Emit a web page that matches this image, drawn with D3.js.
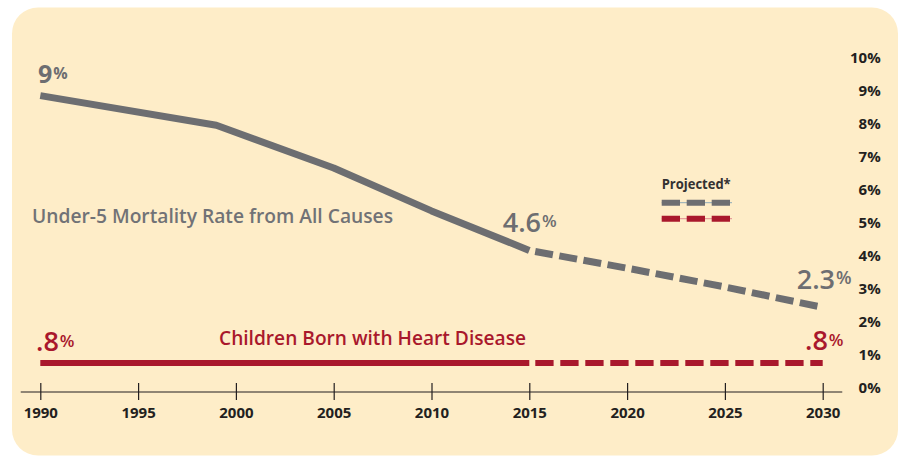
<!DOCTYPE html>
<html>
<head>
<meta charset="utf-8">
<script src="https://cdnjs.cloudflare.com/ajax/libs/d3/7.8.5/d3.min.js"></script>
<style>
body { margin: 0; background: #fff; }
svg text { font-family: "Open Sans", "Noto Sans", sans-serif; }
</style>
</head>
<body>
<script>
// Under-5 mortality rate from all causes (%), actual and projected
var mortYears = [1990, 1999, 2005, 2010, 2015];
var mortValues = [9.0, 8.1, 6.8, 5.5, 4.3];
var projYears = [2015, 2020, 2025, 2030];
var projValues = [4.3, 3.76, 3.19, 2.57];

// Children born with heart disease (%)
var heartYears = [1990, 2015];
var heartValues = [0.88, 0.88];
var heartProjYears = [2015, 2030];
var heartProjValues = [0.88, 0.88];

var xTicks = [1990, 1995, 2000, 2005, 2010, 2015, 2020, 2025, 2030];
var yTicks = [0, 1, 2, 3, 4, 5, 6, 7, 8, 9, 10];

var grey = "#6d6e71", red = "#a9182c", ink = "#231f20";

var svg = d3.select("body").append("svg")
    .attr("width", 899)
    .attr("height", 457);

// cream card
svg.append("rect")
    .attr("x", 12).attr("y", 7.5)
    .attr("width", 886).attr("height", 448)
    .attr("rx", 26).attr("ry", 26)
    .attr("fill", "#feedc8");

var x = d3.scaleLinear().domain([1990, 2030]).range([40.3, 822.7]);
var y = d3.scaleLinear().domain([0, 10]).range([392, 62.7]);

// x axis
var xAxis = svg.append("g")
    .attr("transform", "translate(0,392)")
    .call(d3.axisBottom(x).tickValues(xTicks).tickFormat(d3.format("d")).tickSize(8));
xAxis.select(".domain").remove();
xAxis.append("line")
    .attr("x1", x(1989)).attr("x2", x(2031))
    .attr("stroke", ink).attr("stroke-width", 1.2);
xAxis.selectAll(".tick line")
    .attr("y1", -9).attr("y2", 8)
    .attr("stroke", ink).attr("stroke-width", 1.2);
xAxis.selectAll(".tick text")
    .attr("y", 26).attr("dy", 0)
    .attr("fill", ink)
    .style("font-size", "15px").style("font-weight", 700);

// y axis labels on the right
var yAxis = svg.append("g")
    .attr("transform", "translate(880.7,0)")
    .call(d3.axisLeft(y).tickValues(yTicks).tickFormat(function (d) { return d + "%"; }).tickSize(0).tickPadding(0));
yAxis.select(".domain").remove();
yAxis.selectAll(".tick text")
    .attr("dy", 0)
    .attr("fill", ink)
    .style("font-size", "15px").style("font-weight", 700);

var line = d3.line()
    .x(function (d) { return x(d[0]); })
    .y(function (d) { return y(d[1]); });

function pairs(xs, ys) {
    return xs.map(function (d, i) { return [d, ys[i]]; });
}

// heart disease line
svg.append("path")
    .attr("d", line(pairs(heartYears, heartValues)))
    .attr("fill", "none").attr("stroke", red).attr("stroke-width", 6);
svg.append("path")
    .attr("d", line(pairs(heartProjYears, heartProjValues)))
    .attr("fill", "none").attr("stroke", red).attr("stroke-width", 6)
    .attr("stroke-dasharray", "18.3,6.7").attr("stroke-dashoffset", 19);

// mortality line
svg.append("path")
    .attr("d", line(pairs(mortYears, mortValues)))
    .attr("fill", "none").attr("stroke", grey).attr("stroke-width", 7)
    .attr("stroke-linejoin", "round");
svg.append("path")
    .attr("d", line(pairs(projYears, projValues)))
    .attr("fill", "none").attr("stroke", grey).attr("stroke-width", 7)
    .attr("stroke-dasharray", "18,6.5").attr("stroke-dashoffset", 18.5);

// series titles
svg.append("text")
    .attr("x", 32).attr("y", 222.7)
    .attr("textLength", 361).attr("lengthAdjust", "spacingAndGlyphs")
    .attr("fill", "#717276")
    .style("font-size", "20px").style("font-weight", 600)
    .text("Under-5 Mortality Rate from All Causes");

svg.append("text")
    .attr("x", 219).attr("y", 345)
    .attr("textLength", 307).attr("lengthAdjust", "spacingAndGlyphs")
    .attr("fill", red)
    .style("font-size", "20px").style("font-weight", 600)
    .text("Children Born with Heart Disease");

// value callouts
var callouts = [
    { num: "9", x: 38, y: 83, size: 25, pct: 16, lift: -4, weight: 700, color: grey },
    { num: "4.6", x: 502.7, y: 231.7, size: 27, pct: 17, lift: -4.5, weight: 600, color: grey },
    { num: "2.3", x: 796.7, y: 289.3, size: 27, pct: 18, lift: -5, weight: 600, color: grey },
    { num: ".8", x: 36, y: 350.7, size: 27, pct: 17, lift: -4, weight: 600, color: red },
    { num: ".8", x: 805, y: 350, size: 27, pct: 17, lift: -4, weight: 600, color: red }
];
callouts.forEach(function (c) {
    var t = svg.append("text")
        .attr("x", c.x).attr("y", c.y)
        .attr("fill", c.color)
        .style("font-weight", c.weight);
    t.append("tspan").style("font-size", c.size + "px").text(c.num);
    t.append("tspan").attr("dx", 1).attr("dy", c.lift).style("font-size", c.pct + "px").text("%");
});

// projected legend
svg.append("text")
    .attr("x", 661.7).attr("y", 189.3)
    .attr("textLength", 69).attr("lengthAdjust", "spacingAndGlyphs")
    .attr("fill", "#333132")
    .style("font-size", "14px").style("font-weight", 700)
    .text("Projected*");

[{ y: 202.7, color: grey, thin: "#8eaab8" }, { y: 218.7, color: red, thin: "#e08a90" }].forEach(function (k) {
    svg.append("line")
        .attr("x1", 661.7).attr("x2", 732)
        .attr("y1", k.y).attr("y2", k.y)
        .attr("stroke", k.thin).attr("stroke-width", 1);
    svg.append("line")
        .attr("x1", 661.7).attr("x2", 731)
        .attr("y1", k.y).attr("y2", k.y)
        .attr("stroke", k.color).attr("stroke-width", 6)
        .attr("stroke-dasharray", "18.3,6.7");
});
</script>
</body>
</html>
